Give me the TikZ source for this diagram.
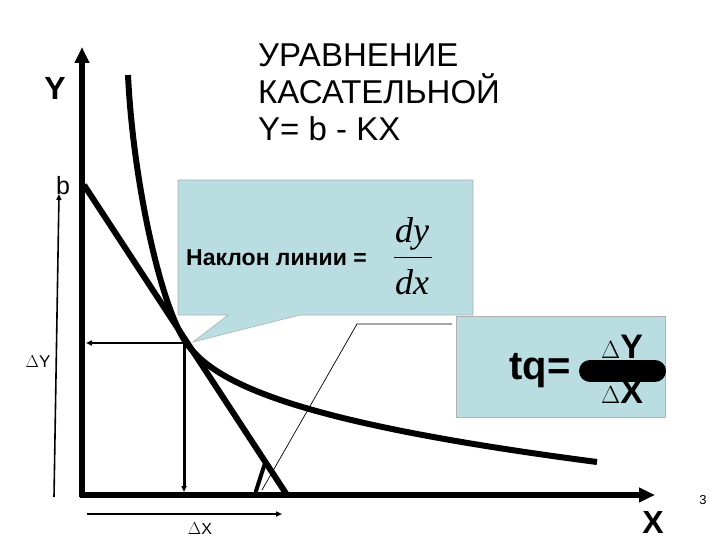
\documentclass[tikz,border=0pt]{standalone}
\usepackage{fontspec}
\setmainfont{Liberation Sans}
\newfontfamily\serifit{Liberation Serif}
\usetikzlibrary{arrows.meta}
\definecolor{callblue}{HTML}{B9DDE0}
\begin{document}
\begin{tikzpicture}[x=1pt,y=-1pt,
  axis/.style={line width=5.5pt,-{Triangle[length=16pt,width=14pt]}},
  curve/.style={line width=6pt},
  thinarr/.style={line width=1.6pt,-{Triangle[length=6pt,width=5pt]}},
  callout/.style={fill=callblue,draw=gray!60,line width=0.6pt},
  lbl/.style={inner sep=0pt}]
\useasboundingbox (0,0) rectangle (720,540);
% callout boxes
\filldraw[callout] (178,180) -- (473,180) -- (473,315) -- (300,315) -- (193,342) -- (228,315) -- (178,315) -- cycle;
\filldraw[callout] (456,316) rectangle (665,417);
\draw[line width=0.7pt] (452,324) -- (357,324) -- (262,490);
\draw[line width=4pt,line cap=round] (256,491) -- (265,463);
% axes
\coordinate (Ytop) at (82,47);
\coordinate (Xend) at (655,495);
\draw[axis] (82,497) -- (Ytop);
\draw[axis] (80,495) -- (Xend);
% curve and tangent
\coordinate (T) at (185,341);
\draw[curve] (128,75) .. controls (133,180) and (160,303) .. (T)
  .. controls (212,382) and (290,422) .. (597,462);
\draw[curve] (84,185) -- (287,495);
% projections
\coordinate (Ty) at (86,343);
\coordinate (Tx) at (184,492);
\draw[thinarr,line width=2.5pt] (184,343) -- (Ty);
\draw[thinarr,line width=3pt] (184,343) -- (Tx);
% delta arrows
\coordinate (dy0) at (54,497); \coordinate (dy1) at (59,194);
\draw[thinarr] (dy0) -- (dy1);
\coordinate (dx0) at (87,514); \coordinate (dx1) at (282,514);
\draw[thinarr] (dx0) -- (dx1);
% labels
\node[lbl,font=\bfseries\fontsize{32}{32}\selectfont] (Ylab) at (55,88) {Y};
\node[lbl,font=\bfseries\fontsize{32}{32}\selectfont] (Xlab) at (653,522) {X};
\node[lbl,font=\fontsize{25}{25}\selectfont] (blab) at (63,186) {b};
\node[lbl,font=\fontsize{17}{17}\selectfont] (dylab) at (38,362) {$\Delta$Y};
\node[lbl,font=\fontsize{16}{16}\selectfont] (dxlab) at (200,529) {$\Delta$X};
\node[lbl,font=\fontsize{13}{13}\selectfont] (pg) at (703,500) {3};
\node[anchor=north west,inner sep=0pt,align=left,font=\fontsize{33}{37}\selectfont] (title) at (258,44) {УРАВНЕНИЕ\\КАСАТЕЛЬНОЙ\\Y= b - KX};
\node[lbl,font=\bfseries\fontsize{23}{23}\selectfont,anchor=west] (nak) at (186,258) {Наклон линии =};
\node[lbl,font=\serifit\itshape\fontsize{36}{36}\selectfont] (dyt) at (412,234) {dy};
\node[lbl,font=\serifit\itshape\fontsize{36}{36}\selectfont] (dxt) at (412,282) {dx};
\draw[line width=1pt] (394,257) -- (432,257);
\node[lbl,font=\bfseries\fontsize{40}{40}\selectfont] (tq) at (540,371) {tq=};
\node[lbl,font=\bfseries\fontsize{34}{34}\selectfont] (dY) at (622,347) {$\Delta$Y};
\node[lbl,font=\bfseries\fontsize{34}{34}\selectfont] (dX) at (622,392) {$\Delta$X};
\draw[line width=22pt,line cap=round] (590,371) -- (655,371);
\end{tikzpicture}
\end{document}
